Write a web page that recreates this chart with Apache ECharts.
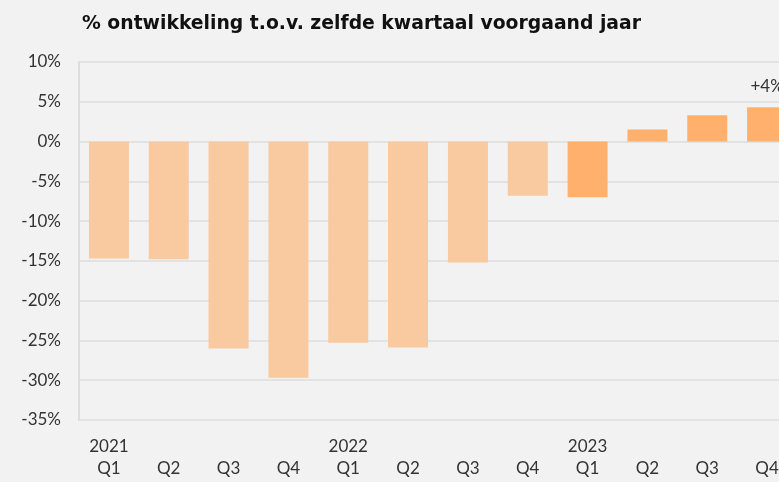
<!DOCTYPE html>
<html>
<head>
<meta charset="utf-8">
<script src="https://cdn.jsdelivr.net/npm/echarts@6/dist/echarts.min.js"></script>
<style>
html,body{margin:0;padding:0;background:#f2f2f2;overflow:hidden;width:779px;height:482px;}
#c{width:797px;height:482px;}
</style>
</head>
<body>
<div id="c"></div>
<script>
var quarters = ['Q1','Q2','Q3','Q4','Q1','Q2','Q3','Q4','Q1','Q2','Q3','Q4'];
var years = ['2021','','','','2022','','','','2023','','',''];
var values = [-14.7, -14.8, -26.0, -29.7, -25.3, -25.9, -15.2, -6.8, -7.0, 1.5, 3.3, 4.3];
var highlight = [false,false,false,false,false,false,false,false,true,true,true,true];
var lastLabel = '+4%';
var yTicks = [10,5,0,-5,-10,-15,-20,-25,-30,-35];

var categories = quarters.map(function(q,i){ return i; });
var chart = echarts.init(document.getElementById('c'));
chart.setOption({
  backgroundColor: '#f2f2f2',
  animation: false,
  title: {
    text: '% ontwikkeling t.o.v. zelfde kwartaal voorgaand jaar',
    left: 77, top: 10,
    textStyle: {fontFamily: 'DejaVu Sans', fontWeight: 'bold', fontSize: 18.8, color: '#111'}
  },
  grid: {left: 79, top: 62, bottom: 62, right: 0},
  xAxis: {
    type: 'category',
    data: categories,
    axisLine: {show: false},
    axisTick: {show: false},
    axisLabel: {
      margin: 16,
      interval: 0,
      lineHeight: 22,
      fontFamily: 'Lato', fontSize: 17, color: '#333',
      formatter: function(v, i){ return (years[i] || '') + '\n' + quarters[i]; }
    }
  },
  yAxis: {
    type: 'value',
    min: yTicks[yTicks.length-1], max: yTicks[0], interval: 5,
    axisLine: {show: true, lineStyle: {color: '#dddddd', width: 2}},
    axisTick: {show: false},
    splitLine: {lineStyle: {color: '#e2e2e2', width: 2}},
    axisLabel: {
      margin: 18,
      fontFamily: 'Lato', fontSize: 17, color: '#333',
      formatter: function(v){ return v + '%'; }
    }
  },
  series: [{
    type: 'bar',
    barWidth: 40,
    data: values.map(function(v,i){
      var d = {value: v, itemStyle: {color: highlight[i] ? '#ffb06c' : '#f9c9a0'}};
      if (i === values.length-1) {
        d.label = {show: true, position: 'top', distance: 12, formatter: lastLabel,
          fontFamily: 'Lato', fontSize: 17, color: '#333'};
      }
      return d;
    })
  }]
});
</script>
</body>
</html>
